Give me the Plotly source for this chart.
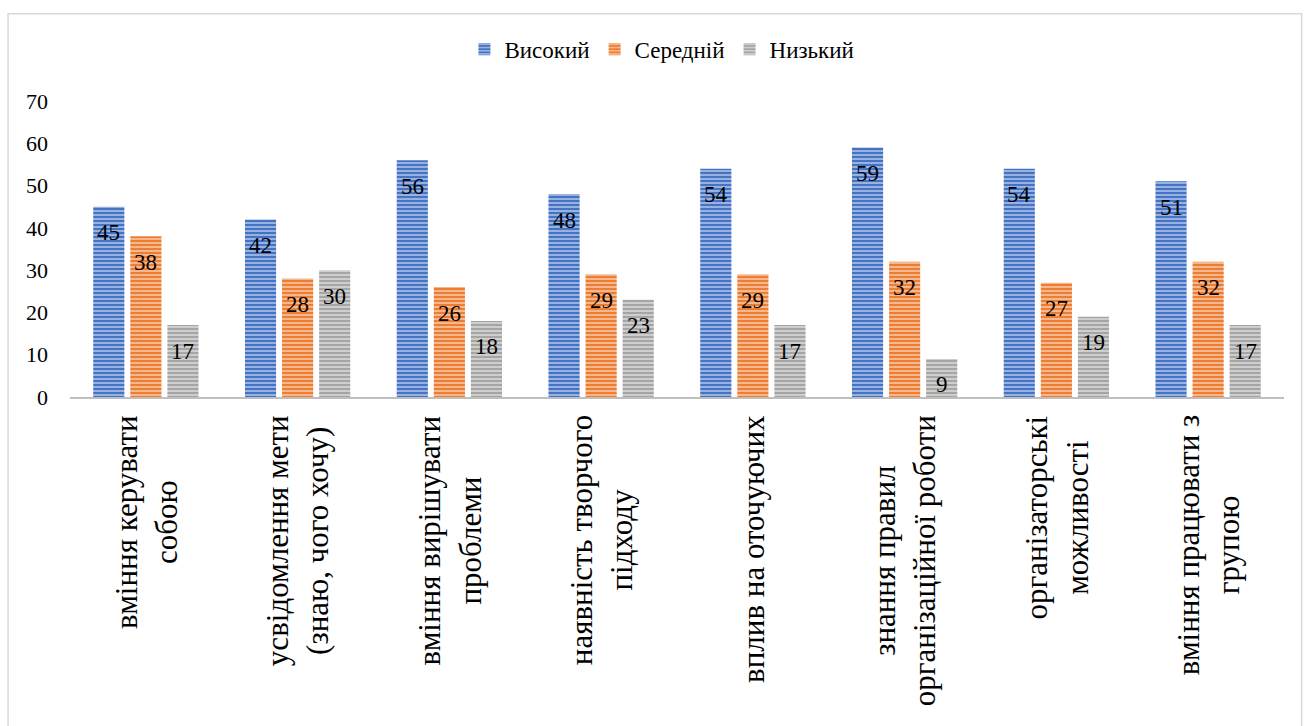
import plotly.graph_objects as go

categories = [
    "вміння керувати<br>собою",
    "усвідомлення мети<br>(знаю, чого хочу)",
    "вміння вирішувати<br>проблеми",
    "наявність творчого<br>підходу",
    "вплив на оточуючих",
    "знання правил<br>організаційної роботи",
    "організаторські<br>можливості",
    "вміння працювати з<br>групою",
]
cat_keys = [f"c{i}" for i in range(len(categories))]

series_names = ["Високий", "Середній", "Низький"]
high = [45, 42, 56, 48, 54, 59, 54, 51]
mid = [38, 28, 26, 29, 29, 32, 27, 32]
low = [17, 30, 18, 23, 17, 9, 19, 17]
colors = ["#4472C4", "#ED7D31", "#A5A5A5"]

FONT = "Liberation Serif"
W, H = 1304, 726
ML, MR, MT, MB = 70, 20, 101, 329
BARGAP = 0.267

fig = go.Figure()
series = [high, mid, low]
for name, vals, col in zip(series_names, series, colors):
    fig.add_trace(go.Bar(
        name=name, x=cat_keys, y=vals,
        marker=dict(color=col, line=dict(width=0),
                    pattern=dict(shape="-", fgcolor="white", fgopacity=0.75,
                                 size=4, solidity=0.3)),
        hoverinfo="x+y",
    ))

# data labels ("inside end" like the original), placed via the axes
cat_px = (W - ML - MR) / len(cat_keys)
slot_px = cat_px * (1 - BARGAP) / len(series)
for si, vals in enumerate(series):
    off = (si - (len(series) - 1) / 2) * slot_px
    for key, v in zip(cat_keys, vals):
        fig.add_annotation(x=key, y=v, xref="x", yref="y", text=str(v),
                           showarrow=False, xshift=off, yshift=-26,
                           yanchor="middle", xanchor="center",
                           font=dict(size=23, family=FONT, color="black"))

for key, lab in zip(cat_keys, categories):
    fig.add_annotation(x=key, y=0, xref="x", yref="paper", text=lab,
                       textangle=-90, showarrow=False, yanchor="top",
                       xanchor="center", align="center", yshift=-16,
                       font=dict(size=31, family=FONT, color="black"))

fig.add_shape(type="rect", xref="paper", yref="paper",
              x0=-0.051, x1=1.0145, y0=-1.2, y1=1.2946,
              line=dict(color="#D9D9D9", width=1.5), fillcolor="rgba(0,0,0,0)",
              layer="below")

fig.update_layout(
    width=W, height=H,
    margin=dict(l=ML, r=MR, t=MT, b=MB),
    paper_bgcolor="white", plot_bgcolor="white",
    barmode="group", bargap=BARGAP, bargroupgap=0.16,
    font=dict(family=FONT, color="black"),
    legend=dict(orientation="h", x=0.4876, xanchor="center", y=1.175,
                yanchor="middle", font=dict(size=23, family=FONT),
                itemwidth=30),
)
fig.update_xaxes(showticklabels=False, showline=True, linecolor="#BFBFBF",
                 linewidth=2, ticks="", showgrid=False, zeroline=False)
fig.update_yaxes(range=[0, 70], dtick=10, showgrid=False, zeroline=False,
                 showline=False, ticks="", ticklabelstandoff=21,
                 tickfont=dict(size=22, family=FONT, color="black"))

fig.write_html("out.html")
